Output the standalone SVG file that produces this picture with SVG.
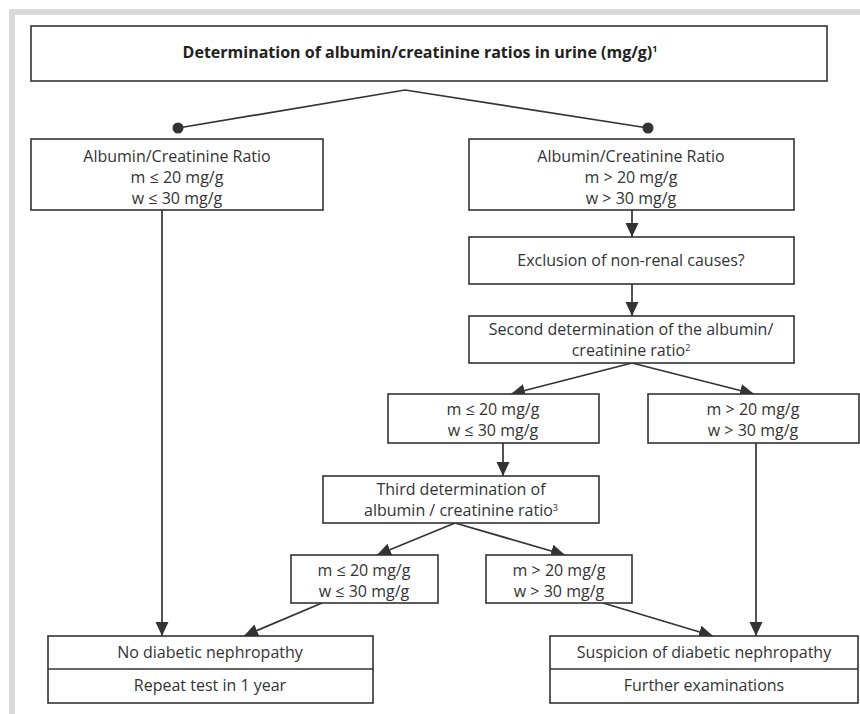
<svg xmlns="http://www.w3.org/2000/svg" width="860" height="714" viewBox="0 0 860 714">
<defs>
<style>
.box{fill:#fff;stroke:#333;stroke-width:1.6}
.t{font-family:"Open Sans","Liberation Sans",sans-serif;font-size:16px;fill:#333;text-anchor:middle}
.tb{font-family:"Open Sans","Liberation Sans",sans-serif;font-size:16px;font-weight:bold;fill:#222;text-anchor:middle}
.c{fill:none;stroke:#333;stroke-width:1.7}
.sup{font-size:9px}
</style>
<marker id="ah" markerUnits="userSpaceOnUse" markerWidth="15" markerHeight="15" viewBox="0 0 15 15" refX="14" refY="7.5" orient="auto">
<path d="M0,1 L14,7.5 L0,14 Z" fill="#333"/>
</marker>
</defs>
<rect width="860" height="714" fill="#fff"/>
<g id="frame" fill="#d9d9d9">
<rect x="9" y="9" width="851" height="6"/>
<rect x="9" y="9" width="6" height="705"/>
</g>
<g id="connectors">
<polyline class="c" points="178,128 405,90 648,128"/>
<circle cx="178" cy="128" r="5.5" fill="#333"/>
<circle cx="648" cy="128" r="5.5" fill="#333"/>
<line class="c" x1="162" y1="210" x2="162" y2="636" marker-end="url(#ah)"/>
<line class="c" x1="632" y1="210" x2="632" y2="237" marker-end="url(#ah)"/>
<line class="c" x1="632" y1="284" x2="632" y2="316" marker-end="url(#ah)"/>
<line class="c" x1="632" y1="363" x2="511" y2="394" marker-end="url(#ah)"/>
<line class="c" x1="632" y1="363" x2="754" y2="394" marker-end="url(#ah)"/>
<line class="c" x1="503" y1="443" x2="503" y2="476" marker-end="url(#ah)"/>
<line class="c" x1="455" y1="523" x2="377" y2="555" marker-end="url(#ah)"/>
<line class="c" x1="455" y1="523" x2="565" y2="555" marker-end="url(#ah)"/>
<line class="c" x1="756" y1="443" x2="756" y2="636" marker-end="url(#ah)"/>
<line class="c" x1="322" y1="603" x2="244" y2="636" marker-end="url(#ah)"/>
<line class="c" x1="603" y1="603" x2="713" y2="636" marker-end="url(#ah)"/>
</g>
<g id="title">
<rect class="box" x="31" y="26" width="796" height="55"/>
<text class="tb" x="420" y="58">Determination of albumin/creatinine ratios in urine (mg/g)<tspan class="sup" dy="-6">1</tspan></text>
</g>
<g id="acr-normal">
<rect class="box" x="31" y="139" width="292" height="71"/>
<text class="t" x="177" y="162">Albumin/Creatinine Ratio</text>
<text class="t" x="177" y="183">m ≤ 20 mg/g</text>
<text class="t" x="177" y="204">w ≤ 30 mg/g</text>
</g>
<g id="acr-elevated">
<rect class="box" x="469" y="139" width="325" height="71"/>
<text class="t" x="631" y="162">Albumin/Creatinine Ratio</text>
<text class="t" x="631" y="183">m &gt; 20 mg/g</text>
<text class="t" x="631" y="204">w &gt; 30 mg/g</text>
</g>
<g id="exclusion">
<rect class="box" x="469" y="237" width="325" height="47"/>
<text class="t" x="631" y="266">Exclusion of non-renal causes?</text>
</g>
<g id="second">
<rect class="box" x="469" y="316" width="325" height="47"/>
<text class="t" x="631" y="335">Second determination of the albumin/</text>
<text class="t" x="631" y="356">creatinine ratio<tspan class="sup" dy="-5">2</tspan></text>
</g>
<g id="second-normal">
<rect class="box" x="388" y="394" width="211" height="49"/>
<text class="t" x="493" y="415">m ≤ 20 mg/g</text>
<text class="t" x="493" y="436">w ≤ 30 mg/g</text>
</g>
<g id="second-elevated">
<rect class="box" x="648" y="394" width="211" height="49"/>
<text class="t" x="753" y="415">m &gt; 20 mg/g</text>
<text class="t" x="753" y="436">w &gt; 30 mg/g</text>
</g>
<g id="third">
<rect class="box" x="323" y="476" width="276" height="47"/>
<text class="t" x="461" y="495">Third determination of</text>
<text class="t" x="461" y="516">albumin / creatinine ratio<tspan class="sup" dy="-5">3</tspan></text>
</g>
<g id="third-normal">
<rect class="box" x="291" y="555" width="147" height="48"/>
<text class="t" x="364" y="576">m ≤ 20 mg/g</text>
<text class="t" x="364" y="597">w ≤ 30 mg/g</text>
</g>
<g id="third-elevated">
<rect class="box" x="486" y="555" width="146" height="48"/>
<text class="t" x="559" y="576">m &gt; 20 mg/g</text>
<text class="t" x="559" y="597">w &gt; 30 mg/g</text>
</g>
<g id="no-nephropathy">
<rect class="box" x="48" y="636" width="325" height="67"/>
<line class="c" x1="48" y1="669" x2="373" y2="669"/>
<text class="t" x="210" y="658">No diabetic nephropathy</text>
<text class="t" x="210" y="691">Repeat test in 1 year</text>
</g>
<g id="suspicion">
<rect class="box" x="550" y="636" width="308" height="67"/>
<line class="c" x1="550" y1="669" x2="858" y2="669"/>
<text class="t" x="704" y="658">Suspicion of diabetic nephropathy</text>
<text class="t" x="704" y="691">Further examinations</text>
</g>
</svg>
